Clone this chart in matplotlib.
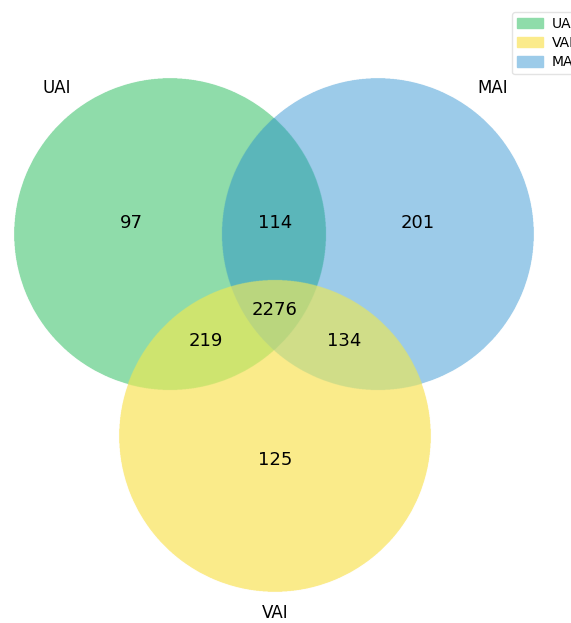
import numpy as np
import matplotlib.pyplot as plt
from matplotlib.patches import Patch

# Set names and region counts
sets = ['UAI', 'VAI', 'MAI']
only_counts = [97, 125, 201]          # UAI only, VAI only, MAI only
pair_counts = {'UAI&MAI': 114, 'UAI&VAI': 219, 'MAI&VAI': 134}
all_count = 2276

# Region colours
col_u = '#8FDCAA'
col_v = '#FBEB8B'
col_m = '#9CCBE9'
col_um = '#5BB7BA'
col_uv = '#CFE470'
col_mv = '#D0DD88'
col_all = '#BAD67F'

W, H = 571, 623
fig = plt.figure(figsize=(W / 100, H / 100), dpi=100)
ax = fig.add_axes([0, 0, 1, 1])
ax.set_xlim(0, W)
ax.set_ylim(H, 0)
ax.axis('off')

# circle layout (pixel units)
cu = (170, 234)
cm = (378, 234)
cv = (275, 436)
r = 156

# paint regions on a fine grid
s = 3
xs = (np.arange(W * s) + 0.5) / s
ys = (np.arange(H * s) + 0.5) / s
X, Y = np.meshgrid(xs, ys)
inu = (X - cu[0]) ** 2 + (Y - cu[1]) ** 2 <= r ** 2
inm = (X - cm[0]) ** 2 + (Y - cm[1]) ** 2 <= r ** 2
inv = (X - cv[0]) ** 2 + (Y - cv[1]) ** 2 <= r ** 2

img = np.ones((H * s, W * s, 4))
img[..., 3] = 0
def paint(mask, c):
    rgb = [int(c[i:i + 2], 16) / 255 for i in (1, 3, 5)]
    img[mask, :3] = rgb
    img[mask, 3] = 1

paint(inu & ~inm & ~inv, col_u)
paint(inm & ~inu & ~inv, col_m)
paint(inv & ~inu & ~inm, col_v)
paint(inu & inm & ~inv, col_um)
paint(inu & inv & ~inm, col_uv)
paint(inm & inv & ~inu, col_mv)
paint(inu & inm & inv, col_all)
ax.imshow(img, extent=(0, W, H, 0), interpolation='antialiased', zorder=1)

# counts
fs = 13
ax.text(131, 223, str(only_counts[0]), ha='center', va='center', fontsize=fs)
ax.text(418, 223, str(only_counts[2]), ha='center', va='center', fontsize=fs)
ax.text(275, 460, str(only_counts[1]), ha='center', va='center', fontsize=fs)
ax.text(275, 223, str(pair_counts['UAI&MAI']), ha='center', va='center', fontsize=fs)
ax.text(206, 341, str(pair_counts['UAI&VAI']), ha='center', va='center', fontsize=fs)
ax.text(344, 341, str(pair_counts['MAI&VAI']), ha='center', va='center', fontsize=fs)
ax.text(275, 310, str(all_count), ha='center', va='center', fontsize=fs)

# set labels
ax.text(57, 88, sets[0], ha='center', va='center', fontsize=12)
ax.text(493, 88, sets[2], ha='center', va='center', fontsize=12)
ax.text(275, 613, sets[1], ha='center', va='center', fontsize=12)

# legend sits partly off the right edge, as in the source image
handles = [Patch(color=col_u), Patch(color=col_v), Patch(color=col_m)]
fig.legend(handles, sets, loc='upper left', bbox_to_anchor=(512 / W, 1 - 12 / H),
           borderaxespad=0, fontsize=10, handlelength=1.9, handleheight=0.75,
           labelspacing=0.38, borderpad=0.35, handletextpad=0.6, frameon=True,
           edgecolor='#dddddd')

plt.savefig('out.png', dpi=100)
